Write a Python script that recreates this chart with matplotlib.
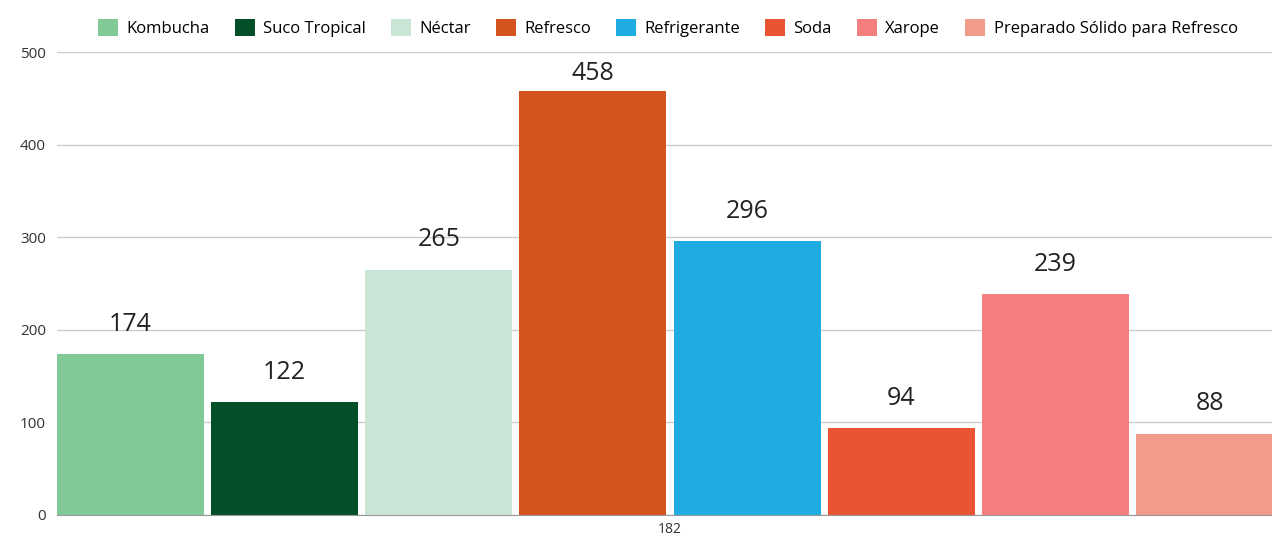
import numpy as np
import matplotlib
matplotlib.use("Agg")
import matplotlib.pyplot as plt
from matplotlib.patches import Patch

plt.rcParams['font.family'] = ['Open Sans', 'DejaVu Sans']

categories = ["Kombucha", "Suco Tropical", "Néctar", "Refresco", "Refrigerante",
              "Soda", "Xarope", "Preparado Sólido para Refresco"]
values = [174, 122, 265, 458, 296, 94, 239, 88]
colors = ["#81CA98", "#034F28", "#C8E5D6", "#D3541E", "#1FADE1",
          "#E95432", "#F47F7E", "#F19C8B"]
group_label = "182"
yticks = [0, 100, 200, 300, 400, 500]

W, H = 1272, 536
fig = plt.figure(figsize=(W / 100, H / 100), dpi=100)
# axes run a bit past the right edge of the figure, like the reference
ax = fig.add_axes([57 / W, 1 - 515 / H, (1283 - 57) / W, (515 - 52) / H])

bw = 0.953
x = np.arange(len(values))
ax.bar(x, values, width=bw, color=colors, zorder=3)

for xi, v in zip(x, values):
    ax.text(xi, min(v + 32, 477), str(v), ha='center', va='center',
            fontsize=18, color='#222222', zorder=4)

ax.set_xlim(-bw / 2, len(values) - 1 + bw / 2)
ax.set_ylim(0, 500)
ax.set_yticks(yticks)
ax.set_yticklabels([str(t) for t in yticks], fontsize=11, color='#333333')
ax.set_xticks([(len(values) - 1) / 2])
ax.set_xticklabels([group_label], fontsize=10, color='#333333')
ax.tick_params(axis='both', length=0, pad=8)
ax.tick_params(axis='x', pad=5)
ax.grid(axis='y', color='#cccccc', linewidth=1, zorder=0)
for s in ['top', 'right', 'left']:
    ax.spines[s].set_visible(False)
ax.spines['bottom'].set_color('#999999')
ax.spines['bottom'].set_zorder(5)

handles = [Patch(facecolor=c, label=l) for c, l in zip(colors, categories)]
fig.legend(handles=handles, loc='center', bbox_to_anchor=(668 / W, 1 - 28 / H),
           ncol=len(categories), frameon=False, fontsize=12,
           handlelength=1.2, handleheight=1.2, handletextpad=0.5,
           columnspacing=1.5)

fig.savefig("out.png", dpi=100)
